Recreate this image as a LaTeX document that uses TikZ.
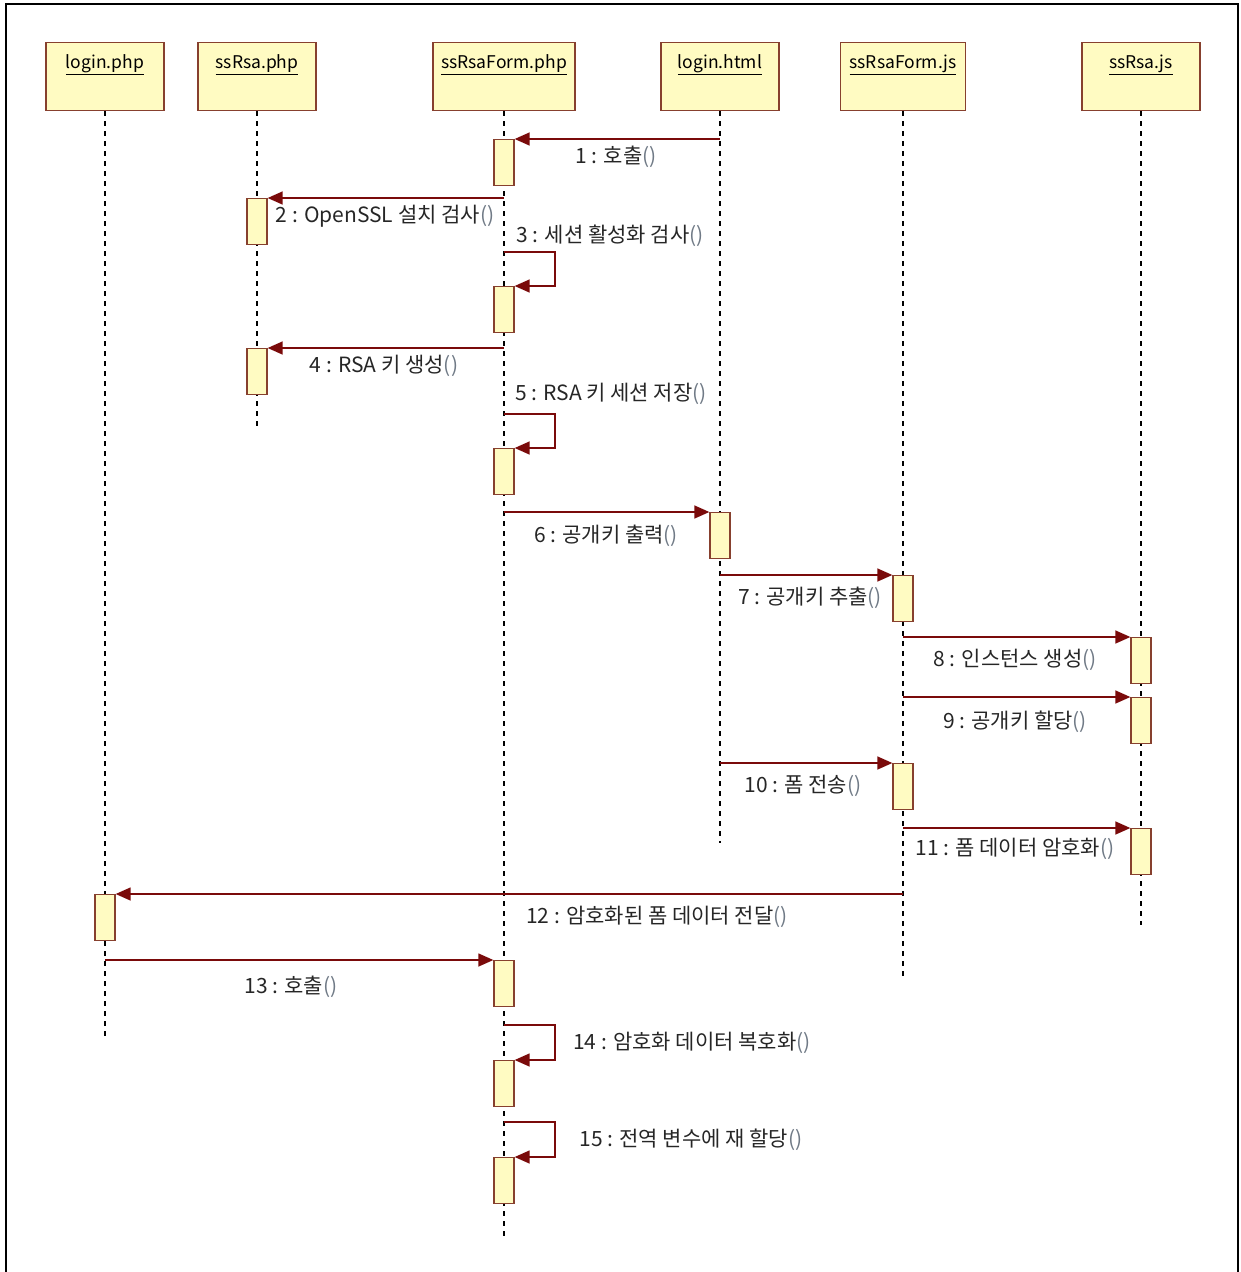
\documentclass[tikz,border=0pt]{standalone}
\usepackage{fontspec}
\setmainfont{Noto Sans CJK KR}
\usetikzlibrary{arrows.meta}
\definecolor{boxfill}{HTML}{FFFBC2}
\definecolor{boxedge}{HTML}{87402E}
\definecolor{msgcol}{HTML}{7A0A0A}
\definecolor{txtcol}{HTML}{262626}
\definecolor{parcol}{HTML}{707A86}
\def\pp{\textcolor{parcol}{()}}

\tikzset{
  obj/.style={draw=boxedge, fill=boxfill, line width=1.4pt, anchor=north, inner sep=0pt,
    minimum width=118pt, text height=26pt, text depth=42pt, font=\fontsize{17.5}{20}\selectfont},
  act/.style={draw=boxedge, fill=boxfill, line width=1.3pt, anchor=north, inner sep=0pt,
    minimum width=20pt, minimum height=46pt},
  life/.style={line width=1.5pt, dash pattern=on 5pt off 5pt},
  msg/.style={draw=msgcol, line width=1.4pt, -{Triangle[length=15pt,width=13pt]}},
  lbl/.style={text=txtcol, inner sep=1pt, font=\fontsize{21}{23}\selectfont}
}

\begin{document}
\begin{tikzpicture}[x=1pt,y=-1pt]
\useasboundingbox (0,0) rectangle (1241,1272);
%% frame
\draw[line width=1.6pt] (6,1272) -- (6,4) -- (1238,4) -- (1238,1272);

%% objects
\node[obj] (lphp) at (105,42) {\underline{login.php}};
\node[obj] (rphp) at (257,42) {\underline{ssRsa.php}};
\node[obj, minimum width=142pt] (fphp) at (504,42) {\underline{ssRsaForm.php}};
\node[obj] (lhtml) at (720,42) {\underline{login.html}};
\node[obj, minimum width=125pt] (fjs) at (903,42) {\underline{ssRsaForm.js}};
\node[obj] (rjs) at (1141,42) {\underline{ssRsa.js}};

%% lifelines
\draw[life] (lphp.south) -- (lphp |- 0,1040);
\draw[life] (rphp.south) -- (rphp |- 0,428);
\draw[life] (fphp.south) -- (fphp |- 0,1237);
\draw[life] (lhtml.south) -- (lhtml |- 0,843);
\draw[life] (fjs.south) -- (fjs |- 0,978);
\draw[life] (rjs.south) -- (rjs |- 0,925);

%% activations
\node[act] (a1) at (fphp |- 0,139) {};
\node[act] (a2) at (rphp |- 0,198) {};
\node[act] (a3) at (fphp |- 0,286) {};
\node[act] (a4) at (rphp |- 0,348) {};
\node[act] (a5) at (fphp |- 0,448) {};
\node[act] (a6) at (lhtml |- 0,512) {};
\node[act] (a7) at (fjs |- 0,575) {};
\node[act] (a8) at (rjs |- 0,637) {};
\node[act] (a9) at (rjs |- 0,697) {};
\node[act] (a10) at (fjs |- 0,763) {};
\node[act] (a11) at (rjs |- 0,828) {};
\node[act] (a12) at (lphp |- 0,894) {};
\node[act] (a13) at (fphp |- 0,960) {};
\node[act] (a14) at (fphp |- 0,1060) {};
\node[act] (a15) at (fphp |- 0,1157) {};

%% messages
\draw[msg] (lhtml |- a1.north) -- (a1.north east);
\draw[msg] (fphp |- a2.north) -- (a2.north east);
\draw[msg] (fphp |- 0,252) -- ++(51,0) |- (a3.north east);
\draw[msg] (fphp |- a4.north) -- (a4.north east);
\draw[msg] (fphp |- 0,414) -- ++(51,0) |- (a5.north east);
\draw[msg] (fphp |- a6.north) -- (a6.north west);
\draw[msg] (lhtml |- a7.north) -- (a7.north west);
\draw[msg] (fjs |- a8.north) -- (a8.north west);
\draw[msg] (fjs |- a9.north) -- (a9.north west);
\draw[msg] (lhtml |- a10.north) -- (a10.north west);
\draw[msg] (fjs |- a11.north) -- (a11.north west);
\draw[msg] (fjs |- a12.north) -- (a12.north east);
\draw[msg] (lphp |- a13.north) -- (a13.north west);
\draw[msg] (fphp |- 0,1025) -- ++(51,0) |- (a14.north east);
\draw[msg] (fphp |- 0,1122) -- ++(51,0) |- (a15.north east);

%% labels
\node[lbl] (m1) at (616,157) {1 : 호출\pp};
\node[lbl] (m2) at (385,216) {2 : OpenSSL 설치 검사\pp};
\node[lbl] (m3) at (610,236) {3 : 세션 활성화 검사\pp};
\node[lbl] (m4) at (384,366) {4 : RSA 키 생성\pp};
\node[lbl] (m5) at (611,394) {5 : RSA 키 세션 저장\pp};
\node[lbl] (m6) at (606,536) {6 : 공개키 출력\pp};
\node[lbl] (m7) at (810,598) {7 : 공개키 추출\pp};
\node[lbl] (m8) at (1015,660) {8 : 인스턴스 생성\pp};
\node[lbl] (m9) at (1015,722) {9 : 공개키 할당\pp};
\node[lbl] (m10) at (803,786) {10 : 폼 전송\pp};
\node[lbl] (m11) at (1015,849) {11 : 폼 데이터 암호화\pp};
\node[lbl] (m12) at (657,917) {12 : 암호화된 폼 데이터 전달\pp};
\node[lbl] (m13) at (291,987) {13 : 호출\pp};
\node[lbl] (m14) at (692,1043) {14 : 암호화 데이터 복호화\pp};
\node[lbl] (m15) at (691,1140) {15 : 전역 변수에 재 할당\pp};
\end{tikzpicture}
\end{document}
